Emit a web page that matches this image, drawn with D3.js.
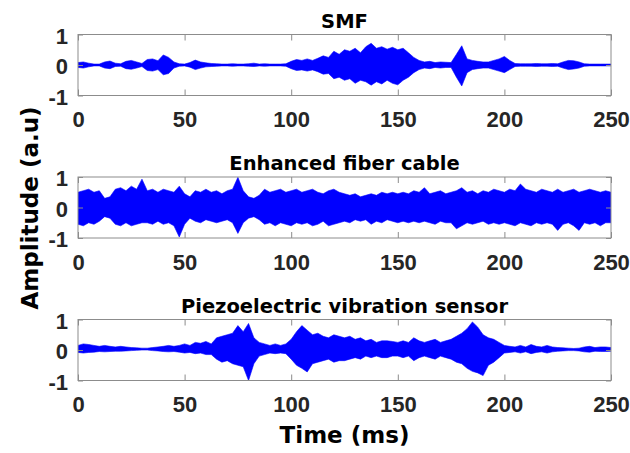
<!DOCTYPE html>
<html>
<head>
<meta charset="utf-8">
<script src="https://cdn.jsdelivr.net/npm/d3@7"></script>
<style>
  body { margin: 0; background: #fff; }
  .tick text { font-family: "Liberation Sans", Arial, sans-serif; font-weight: bold; font-size: 22px; fill: #262626; }
  .title, .label { font-family: "DejaVu Sans", sans-serif; font-weight: bold; fill: #000; }
</style>
</head>
<body>
<svg id="chart" width="630" height="453"></svg>
<script>
// sampling grid of the envelopes (ms)
var timeMs = d3.range(0, 252.5, 2.5);
var xTicks = [0, 50, 100, 150, 200, 250];
var yTicks = [-1, 0, 1];
var titles = ["SMF", "Enhanced fiber cable", "Piezoelectric vibration sensor"];

// upper / lower envelope of each waveform, every 2.5 ms
var smfHi = [0.08,0.1,0.06,0.03,0.03,0.1,0.13,0.06,0.04,0.12,
  0.15,0.1,0.05,0.18,0.2,0.14,0.33,0.25,0.1,0.04,
  0.03,0.08,0.16,0.1,0.07,0.05,0.04,0.03,0.03,0.04,
  0.03,0.03,0.04,0.06,0.03,0.04,0.03,0.03,0.03,0.04,
  0.12,0.18,0.15,0.2,0.15,0.22,0.3,0.25,0.45,0.35,
  0.5,0.45,0.55,0.4,0.6,0.71,0.55,0.6,0.52,0.58,
  0.5,0.55,0.4,0.25,0.15,0.1,0.12,0.08,0.1,0.09,
  0.08,0.35,0.63,0.2,0.15,0.12,0.1,0.1,0.15,0.2,
  0.28,0.15,0.05,0.04,0.04,0.04,0.05,0.04,0.04,0.05,
  0.04,0.1,0.15,0.14,0.1,0.04,0.03,0.03,0.03,0.03,
  0.03];
var smfLo = [-0.08,-0.1,-0.06,-0.03,-0.03,-0.1,-0.12,-0.05,-0.04,-0.12,
  -0.14,-0.1,-0.05,-0.18,-0.2,-0.15,-0.32,-0.28,-0.1,-0.04,
  -0.03,-0.07,-0.15,-0.1,-0.06,-0.05,-0.04,-0.03,-0.03,-0.04,
  -0.03,-0.03,-0.04,-0.05,-0.03,-0.04,-0.03,-0.03,-0.03,-0.04,
  -0.12,-0.18,-0.16,-0.2,-0.16,-0.22,-0.3,-0.28,-0.45,-0.4,
  -0.5,-0.45,-0.6,-0.5,-0.55,-0.66,-0.55,-0.62,-0.5,-0.6,
  -0.65,-0.5,-0.4,-0.25,-0.15,-0.1,-0.12,-0.08,-0.1,-0.08,
  -0.08,-0.4,-0.69,-0.25,-0.15,-0.12,-0.1,-0.1,-0.15,-0.2,
  -0.25,-0.15,-0.05,-0.04,-0.04,-0.04,-0.05,-0.04,-0.04,-0.05,
  -0.04,-0.1,-0.15,-0.13,-0.1,-0.04,-0.03,-0.03,-0.03,-0.03,
  -0.03];

var cableHi = [0.5,0.55,0.6,0.5,0.55,0.3,0.35,0.6,0.65,0.55,
  0.7,0.6,0.93,0.55,0.6,0.5,0.6,0.55,0.5,0.7,
  0.45,0.35,0.55,0.5,0.6,0.5,0.55,0.45,0.55,0.6,
  0.99,0.55,0.35,0.3,0.4,0.6,0.5,0.55,0.6,0.5,
  0.55,0.6,0.5,0.55,0.6,0.5,0.45,0.55,0.6,0.5,
  0.45,0.4,0.45,0.35,0.4,0.45,0.4,0.5,0.45,0.5,
  0.45,0.5,0.45,0.55,0.5,0.65,0.45,0.5,0.55,0.45,
  0.5,0.55,0.65,0.5,0.55,0.45,0.55,0.5,0.6,0.55,
  0.5,0.6,0.55,0.77,0.6,0.55,0.5,0.6,0.55,0.5,
  0.6,0.5,0.55,0.6,0.5,0.55,0.6,0.55,0.5,0.55,
  0.5];
var cableLo = [-0.55,-0.6,-0.5,-0.55,-0.45,-0.3,-0.35,-0.55,-0.6,-0.5,
  -0.6,-0.55,-0.5,-0.5,-0.55,-0.45,-0.55,-0.5,-0.6,-0.97,
  -0.55,-0.35,-0.45,-0.5,-0.4,-0.45,-0.5,-0.45,-0.4,-0.5,
  -0.85,-0.5,-0.35,-0.3,-0.4,-0.55,-0.5,-0.6,-0.5,-0.55,
  -0.6,-0.5,-0.55,-0.5,-0.6,-0.55,-0.45,-0.6,-0.55,-0.5,
  -0.45,-0.5,-0.4,-0.45,-0.4,-0.55,-0.45,-0.5,-0.4,-0.45,
  -0.5,-0.45,-0.5,-0.45,-0.5,-0.45,-0.5,-0.55,-0.45,-0.5,
  -0.5,-0.7,-0.6,-0.5,-0.55,-0.5,-0.45,-0.55,-0.5,-0.55,
  -0.5,-0.55,-0.6,-0.5,-0.55,-0.6,-0.5,-0.55,-0.5,-0.55,
  -0.75,-0.55,-0.5,-0.6,-0.75,-0.5,-0.55,-0.5,-0.6,-0.5,
  -0.5];

var piezoHi = [0.15,0.2,0.18,0.15,0.12,0.15,0.12,0.1,0.12,0.1,
  0.08,0.07,0.06,0.06,0.08,0.1,0.12,0.15,0.12,0.15,
  0.2,0.15,0.25,0.22,0.28,0.2,0.4,0.45,0.5,0.55,
  0.8,0.6,0.87,0.4,0.25,0.2,0.15,0.2,0.15,0.2,
  0.35,0.6,0.8,0.65,0.5,0.55,0.45,0.4,0.5,0.45,
  0.4,0.45,0.35,0.4,0.3,0.35,0.25,0.3,0.3,0.28,
  0.25,0.3,0.25,0.4,0.3,0.25,0.3,0.35,0.25,0.3,
  0.35,0.45,0.55,0.7,0.92,0.75,0.5,0.4,0.35,0.25,
  0.15,0.12,0.1,0.15,0.1,0.18,0.12,0.1,0.15,0.1,
  0.08,0.07,0.06,0.05,0.06,0.1,0.12,0.08,0.1,0.1,
  0.08];
var piezoLo = [-0.08,-0.1,-0.08,-0.07,-0.05,-0.06,-0.05,-0.04,-0.04,-0.03,
  -0.02,-0.01,0,0,-0.02,-0.03,-0.05,-0.06,-0.05,-0.07,
  -0.1,-0.08,-0.12,-0.1,-0.15,-0.15,-0.3,-0.4,-0.35,-0.45,
  -0.5,-0.55,-1.0,-0.45,-0.2,-0.15,-0.1,-0.12,-0.1,-0.12,
  -0.3,-0.5,-0.6,-0.72,-0.45,-0.4,-0.35,-0.3,-0.4,-0.35,
  -0.35,-0.3,-0.25,-0.3,-0.2,-0.25,-0.2,-0.25,-0.25,-0.2,
  -0.2,-0.25,-0.2,-0.35,-0.25,-0.2,-0.25,-0.3,-0.2,-0.25,
  -0.3,-0.4,-0.45,-0.6,-0.7,-0.75,-0.84,-0.5,-0.4,-0.25,
  -0.1,-0.08,-0.06,-0.1,-0.06,-0.12,-0.08,-0.06,-0.1,-0.06,
  -0.04,-0.03,-0.02,-0.02,-0.03,-0.06,-0.07,-0.04,-0.05,-0.05,
  -0.04];

var signals = [[smfHi, smfLo], [cableHi, cableLo], [piezoHi, piezoLo]];

var svg = d3.select("#chart");
var left = 78, right = 611, panelH = 61;
var panelTops = [34.5, 177, 319.5];

var x = d3.scaleLinear().domain([0, 250]).range([left, right]);

panelTops.forEach(function (top, p) {
    var y = d3.scaleLinear().domain([-1, 1]).range([top + panelH, top]);
    var g = svg.append("g");

    g.append("clipPath").attr("id", "clip" + p)
        .append("rect").attr("x", left).attr("y", top)
        .attr("width", right - left).attr("height", panelH);

    var hi = signals[p][0], lo = signals[p][1];
    var area = d3.area()
        .x(function (d, i) { return x(timeMs[i]); })
        .y0(function (d, i) { return y(lo[i]); })
        .y1(function (d, i) { return y(hi[i]); });

    g.append("path")
        .datum(timeMs)
        .attr("clip-path", "url(#clip" + p + ")")
        .attr("d", area)
        .attr("fill", "#0000ff")
        .attr("stroke", "#0000ff")
        .attr("stroke-width", 0.6);

    // axes: ticks pointing inward, labels on bottom and left only
    var bottom = g.append("g")
        .attr("transform", "translate(0," + (top + panelH) + ")")
        .call(d3.axisBottom(x).tickValues(xTicks).tickSizeInner(-6).tickSizeOuter(0).tickPadding(16));
    g.append("g")
        .attr("transform", "translate(0," + top + ")")
        .call(d3.axisTop(x).tickValues(xTicks).tickSizeInner(-6).tickSizeOuter(0).tickFormat(""));
    var leftAx = g.append("g")
        .attr("transform", "translate(" + left + ",0)")
        .call(d3.axisLeft(y).tickValues(yTicks).tickSizeInner(-5).tickSizeOuter(0).tickPadding(10)
            .tickFormat(function (d) { return String(d); }));
    g.append("g")
        .attr("transform", "translate(" + right + ",0)")
        .call(d3.axisRight(y).tickValues(yTicks).tickSizeInner(-5).tickSizeOuter(0).tickFormat(""));

    g.selectAll(".domain").remove();
    g.selectAll(".tick line").attr("stroke", "#8c8c8c");
    bottom.selectAll(".tick text").attr("dy", "0.71em");
    leftAx.selectAll(".tick text").attr("dy", "0.4em");

    g.append("rect")
        .attr("x", left).attr("y", top)
        .attr("width", right - left).attr("height", panelH)
        .attr("fill", "none").attr("stroke", "#8c8c8c").attr("stroke-width", 1);

    g.append("text")
        .attr("class", "title")
        .attr("x", (left + right) / 2).attr("y", top - 7)
        .attr("text-anchor", "middle")
        .style("font-size", "19.5px")
        .text(titles[p]);
});

svg.append("text")
    .attr("class", "label")
    .attr("x", (left + right) / 2).attr("y", 443)
    .attr("text-anchor", "middle")
    .style("font-size", "23px")
    .text("Time (ms)");

svg.append("text")
    .attr("class", "label")
    .attr("transform", "translate(38,208) rotate(-90)")
    .attr("text-anchor", "middle")
    .style("font-size", "23px")
    .text("Amplitude (a.u)");
</script>
</body>
</html>
